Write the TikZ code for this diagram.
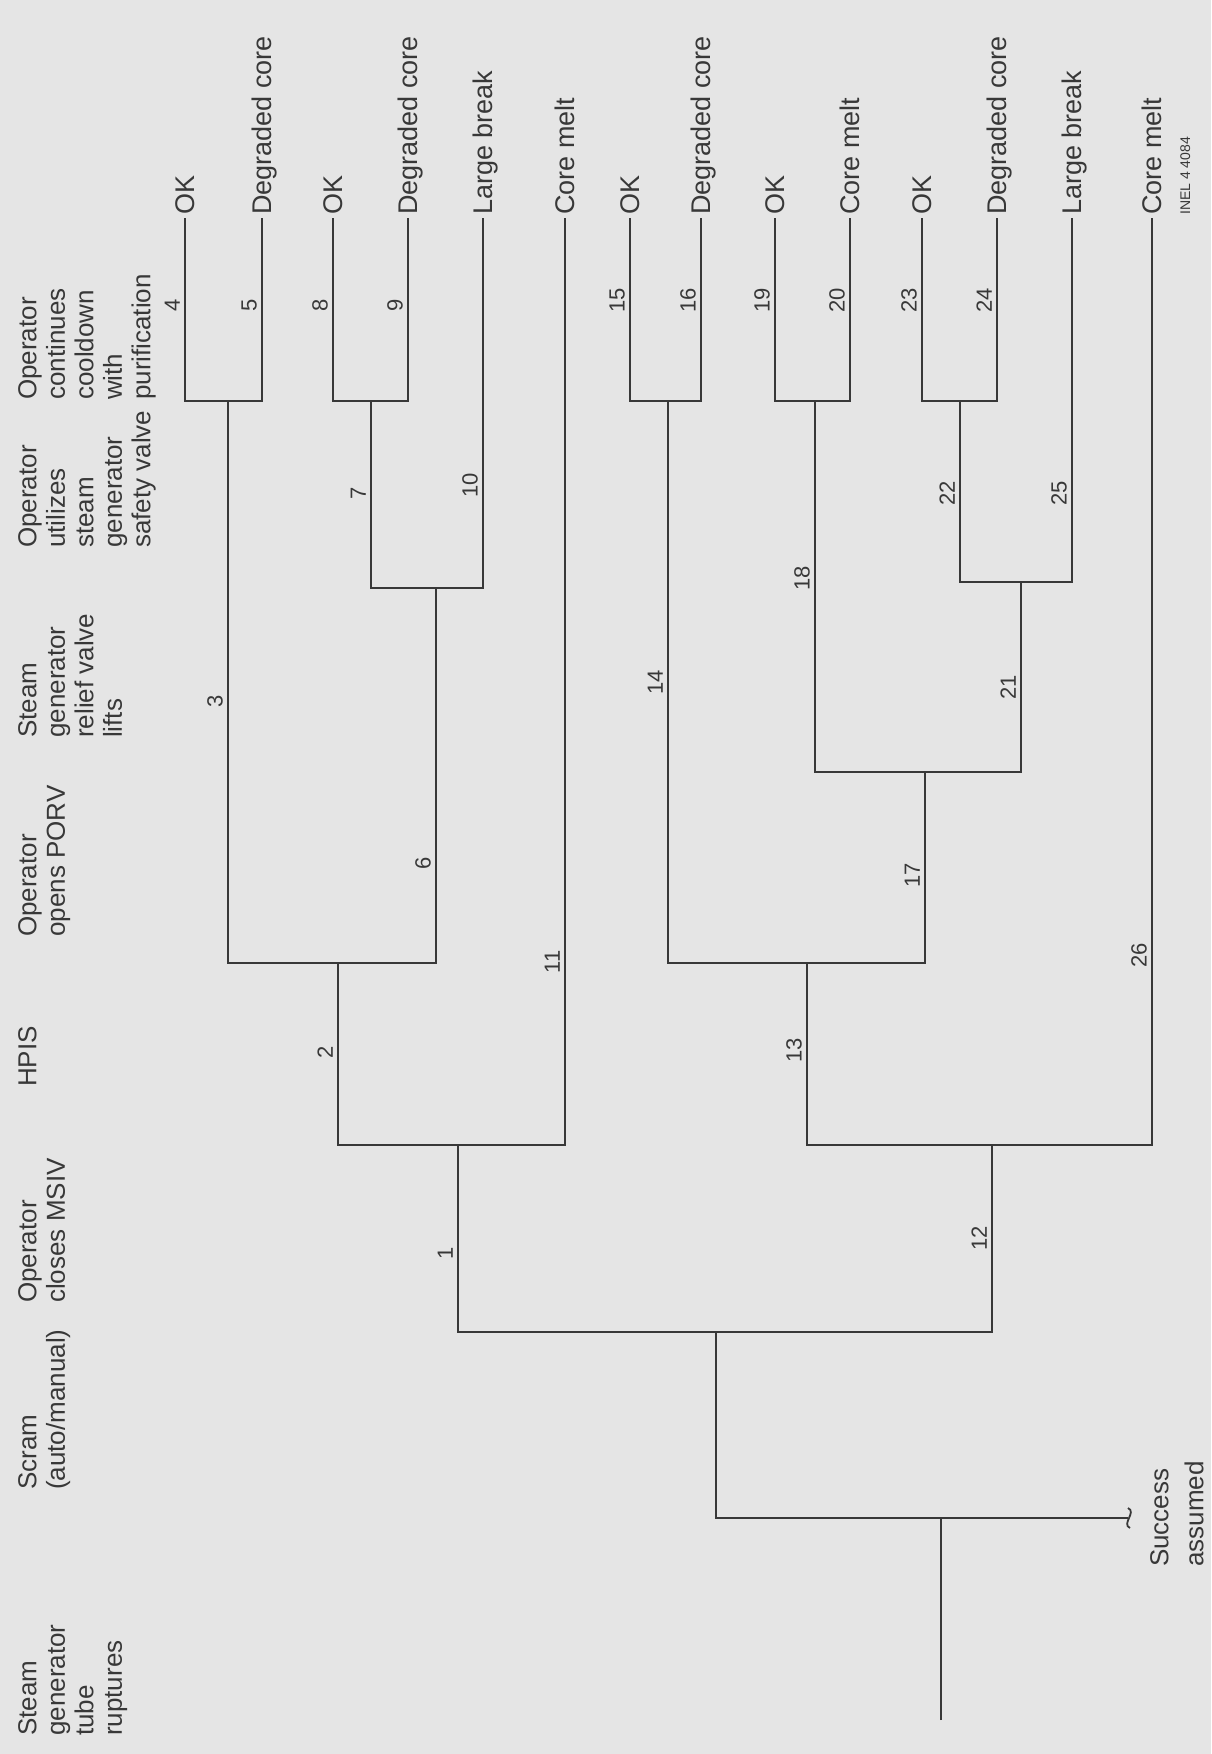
\documentclass[tikz,border=0pt]{standalone}
\usepackage{fontspec}
\setmainfont{Liberation Sans}

\definecolor{paper}{gray}{0.9}
\definecolor{ink}{gray}{0.22}

\newcommand{\branch}[3]{% split at (#1): stem comes in from below, bar runs
  % out to the success child (#2) and the failure child (#3)
  \draw[tree] (#2) |- (#1) -| (#3);
}

\tikzset{
  tree/.style={draw=ink, line width=2.3pt},
  outcome/.style={rotate=90, anchor=west, inner sep=3pt, text=ink,
    font=\fontsize{27}{31}\selectfont, text height=19.4pt, text depth=0pt},
  branchno/.style={rotate=90, anchor=south, inner sep=2pt, text=ink,
    font=\fontsize{22}{26}\selectfont},
  heading/.style={rotate=90, anchor=north west, inner sep=0pt, align=left,
    text=ink, font=\fontsize{26}{28.5}\selectfont},
}

\begin{document}
\begin{tikzpicture}[x=1pt,y=-1pt]
  \useasboundingbox (0,0) rectangle (1211,1754);
  \fill[paper] (0,0) rectangle (1211,1754);

  % column headings
  \node[heading] (hsgtr)  at (18,1736) {Steam\\generator\\tube\\ruptures};
  \node[heading] (hscram) at (18,1490) {Scram\\(auto/manual)};
  \node[heading] (hmsiv)  at (18,1303) {Operator\\closes MSIV};
  \node[heading] (hhpis)  at (18,1087) {HPIS};
  \node[heading] (hporv)  at (18,937)  {Operator\\opens PORV};
  \node[heading] (hrelv)  at (18,738)  {Steam\\generator\\relief valve\\lifts};
  \node[heading] (hsafv)  at (18,548)  {Operator\\utilizes\\steam\\generator\\safety valve};
  \node[heading] (hcool)  at (18,400)  {Operator\\continues\\cooldown\\with\\purification};

  % end states
  \foreach \n/\x/\t in {4/185/OK, 5/262/Degraded core, 8/333/OK, 9/408/Degraded core,
      10/483/Large break, 11/565/Core melt, 15/630/OK, 16/701/Degraded core,
      19/775/OK, 20/850/Core melt, 23/922/OK, 24/997/Degraded core,
      25/1072/Large break, 26/1152/Core melt}
    \node[outcome] (o\n) at (\x,218) {\t};
  \node[outcome, font=\fontsize{14}{16}\selectfont, text height=10pt] (inel) at (1185,218) {INEL 4 4084};

  % split points
  \coordinate (scram) at (941,1518);
  \coordinate (init)  at (941,1720);
  \coordinate (sa)    at (1128,1518);
  \coordinate (msiv)  at (716,1332);
  \coordinate (hpisA) at (458,1145);
  \coordinate (hpisB) at (992,1145);
  \coordinate (porvA) at (338,963);
  \coordinate (porvB) at (807,963);
  \coordinate (svA)   at (436,588);
  \coordinate (relB)  at (925,772);
  \coordinate (svB)   at (1021,582);
  \coordinate (coolA) at (228,401);
  \coordinate (coolB) at (371,401);
  \coordinate (coolC) at (668,401);
  \coordinate (coolD) at (815,401);
  \coordinate (coolE) at (960,401);

  \branch{coolA}{o4.west}{o5.west}
  \branch{coolB}{o8.west}{o9.west}
  \branch{coolC}{o15.west}{o16.west}
  \branch{coolD}{o19.west}{o20.west}
  \branch{coolE}{o23.west}{o24.west}
  \branch{svA}{coolB}{o10.west}
  \branch{svB}{coolE}{o25.west}
  \branch{relB}{coolD}{svB}
  \branch{porvA}{coolA}{svA}
  \branch{porvB}{coolC}{relB}
  \branch{hpisA}{porvA}{o11.west}
  \branch{hpisB}{porvB}{o26.west}
  \branch{msiv}{hpisA}{hpisB}
  \branch{scram}{msiv}{sa}
  \draw[tree] (init) -- (scram);

  % break mark where the scram failure path is cut off
  \draw[tree, line width=1.8pt] (sa) ++(0,-10) .. controls +(9,4) and +(-9,-4) .. ++(2,20);
  \node[heading, font=\fontsize{26}{35}\selectfont] (succ) at (1150,1567) {Success\\assumed};

  % sequence numbers
  \foreach \n/\x/\y in {1/458/1253, 2/338/1052, 3/228/701, 4/185/305, 5/262/305,
      6/436/863, 7/371/493, 8/333/305, 9/408/305, 10/483/485, 11/565/962,
      12/992/1238, 13/807/1050, 14/668/682, 15/630/300, 16/701/300,
      17/925/875, 18/815/578, 19/775/300, 20/850/300, 21/1021/687,
      22/960/493, 23/922/300, 24/997/300, 25/1072/493, 26/1152/955}
    \node[branchno] (n\n) at (\x-3,\y) {\n};
\end{tikzpicture}
\end{document}
